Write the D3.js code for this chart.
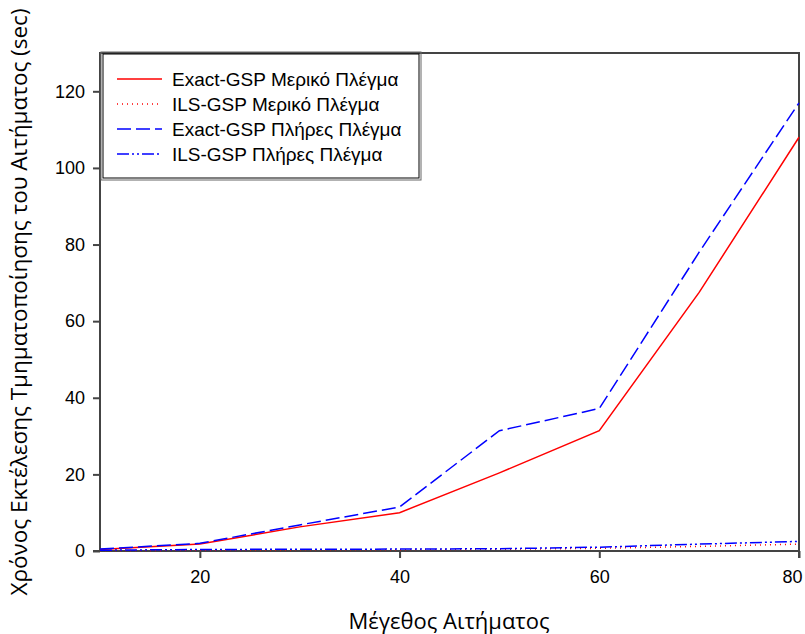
<!DOCTYPE html>
<html>
<head>
<meta charset="utf-8">
<script src="https://cdn.jsdelivr.net/npm/d3@7"></script>
<style>
  body { margin: 0; background: #fff; }
  svg { display: block; }
</style>
</head>
<body>
<svg width="805" height="634"></svg>
<script>
// request size on the x axis
const sizes = [10, 20, 30, 40, 50, 60, 70, 80];

// execution time (sec), one array per series
const exactPartial = [0.4, 1.8, 6.3, 10.0, 20.4, 31.4, 67.5, 108.0];
const ilsPartial   = [0.1, 0.2, 0.3, 0.35, 0.45, 0.7, 1.2, 1.8];
const exactFull    = [0.5, 2.0, 6.8, 11.5, 31.4, 37.2, 78.0, 117.0];
const ilsFull      = [0.2, 0.4, 0.45, 0.5, 0.6, 1.0, 1.8, 2.5];

const seriesNames = [
    "Exact-GSP Μερικό Πλέγμα",
    "ILS-GSP Μερικό Πλέγμα",
    "Exact-GSP Πλήρες Πλέγμα",
    "ILS-GSP Πλήρες Πλέγμα"
];

const xTicks = [20, 40, 60, 80];
const yTicks = [0, 20, 40, 60, 80, 100, 120];

const series = [
    { name: seriesNames[0], values: exactPartial, color: "#ff0000", dash: null },
    { name: seriesNames[1], values: ilsPartial, color: "#ff0000", dash: "1,4" },
    { name: seriesNames[2], values: exactFull, color: "#0000ff", dash: "14,5" },
    { name: seriesNames[3], values: ilsFull, color: "#0000ff", dash: "12,3,2,3,2,3" }
];

const svg = d3.select("svg");
const plotLeft = 100, plotRight = 799, plotTop = 53, plotBottom = 551;

const x = d3.scaleLinear().domain([10, 80]).range([plotLeft, plotRight]);
const y = d3.scaleLinear().domain([0, 130]).range([plotBottom, plotTop]);

const axisColor = "#444";
const tickFont = "Liberation Sans, Arial, sans-serif";

// frame
svg.append("rect")
    .attr("x", plotLeft).attr("y", plotTop)
    .attr("width", plotRight - plotLeft).attr("height", plotBottom - plotTop)
    .attr("fill", "none")
    .attr("stroke", axisColor)
    .attr("stroke-width", 2);

// x axis
const gx = svg.append("g")
    .attr("transform", `translate(0,${plotBottom})`)
    .call(d3.axisBottom(x).tickValues(xTicks).tickSize(7).tickSizeOuter(0).tickPadding(12));
gx.select(".domain").attr("stroke", axisColor).attr("stroke-width", 2)
    .attr("d", `M${plotLeft - 7},0H${plotRight}`);
gx.selectAll(".tick line").attr("stroke", axisColor).attr("stroke-width", 2);
gx.selectAll(".tick text")
    .attr("font-family", tickFont)
    .attr("font-size", 18).attr("fill", "#000")
    .attr("dx", d => d === 80 ? -7 : 0);

// y axis
const gy = svg.append("g")
    .attr("transform", `translate(${plotLeft},0)`)
    .call(d3.axisLeft(y).tickValues(yTicks).tickSize(7).tickSizeOuter(0).tickPadding(8));
gy.select(".domain").remove();
gy.selectAll(".tick line").attr("stroke", axisColor).attr("stroke-width", 2);
gy.selectAll(".tick text")
    .attr("font-family", tickFont)
    .attr("font-size", 18).attr("fill", "#000");

// right tick below axis at 80
svg.append("line")
    .attr("x1", plotRight).attr("x2", plotRight)
    .attr("y1", plotBottom).attr("y2", plotBottom + 7)
    .attr("stroke", axisColor).attr("stroke-width", 2);

// lines
const line = d3.line()
    .x((d, i) => x(sizes[i]))
    .y(d => y(d));

svg.append("g").selectAll("path")
    .data(series)
    .join("path")
    .attr("d", d => line(d.values))
    .attr("fill", "none")
    .attr("stroke", d => d.color)
    .attr("stroke-width", 1.5)
    .attr("stroke-dasharray", d => d.dash);

// legend
const lg = svg.append("g");
lg.append("rect")
    .attr("x", 103).attr("y", 54)
    .attr("width", 316).attr("height", 124)
    .attr("fill", "#fff")
    .attr("stroke", "#000")
    .attr("stroke-width", 1);
lg.append("rect")
    .attr("x", 101).attr("y", 52)
    .attr("width", 320).attr("height", 128)
    .attr("fill", "none")
    .attr("stroke", "#666")
    .attr("stroke-width", 1);

const rows = lg.selectAll(".row")
    .data(series)
    .join("g")
    .attr("class", "row")
    .attr("transform", (d, i) => `translate(0,${79 + i * 25})`);
rows.append("line")
    .attr("x1", 117).attr("x2", 162)
    .attr("stroke", d => d.color)
    .attr("stroke-width", 1.5)
    .attr("stroke-dasharray", d => d.dash);
rows.append("text")
    .attr("x", 172).attr("y", 7)
    .attr("font-family", tickFont)
    .attr("font-size", 19)
    .text(d => d.name);

// axis titles
svg.append("text")
    .attr("x", 449).attr("y", 629)
    .attr("text-anchor", "middle")
    .attr("font-family", "Open Sans, sans-serif")
    .attr("font-size", 22)
    .text("Μέγεθος Αιτήματος");

svg.append("text")
    .attr("transform", "translate(27,302) rotate(-90)")
    .attr("text-anchor", "middle")
    .attr("font-family", "Open Sans, sans-serif")
    .attr("font-size", 22.5)
    .text("Χρόνος Εκτέλεσης Τμηματοποίησης του Αιτήματος (sec)");
</script>
</body>
</html>
